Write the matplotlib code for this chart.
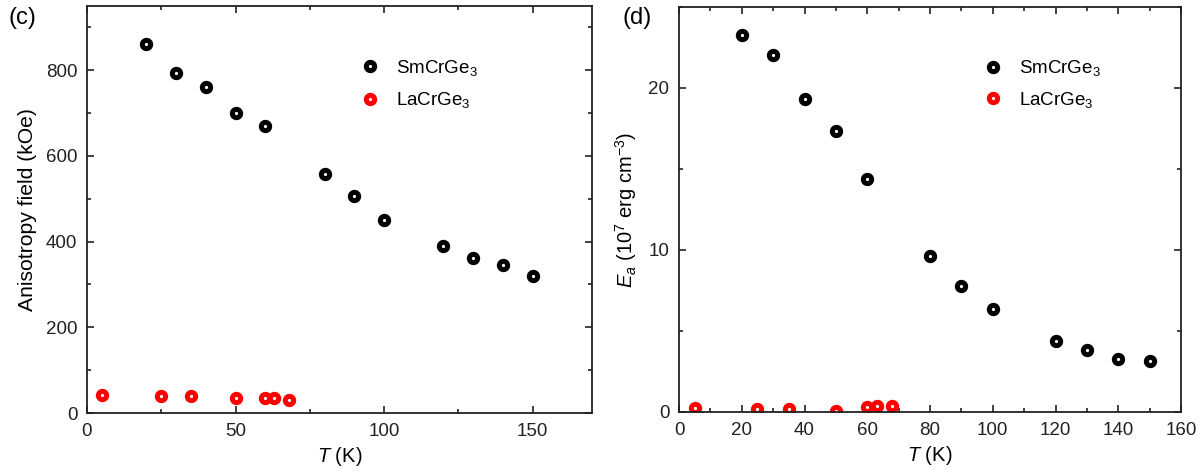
"""
Anisotropy field and anisotropy energy of SmCrGe3 vs LaCrGe3.
"""

import matplotlib
matplotlib.use("Agg")
import matplotlib.pyplot as plt
from matplotlib.ticker import MultipleLocator

# Panel (c): anisotropy field (kOe)
sm_T = [20, 30, 40, 50, 60, 80, 90, 100, 120, 130, 140, 150]
sm_field = [862, 794, 760, 701, 670, 558, 507, 450, 389, 361, 345, 320]
la_T = [5, 25, 35, 50, 60, 63, 68]
la_field = [41, 40, 39, 36, 34, 34, 30]

# Panel (d): anisotropy energy (1e7 erg/cm^3)
sm_energy = [23.3, 22.05, 19.3, 17.37, 14.4, 9.6, 7.75, 6.35, 4.4, 3.83, 3.3, 3.15]
la_energy = [0.25, 0.2, 0.2, 0.04, 0.33, 0.35, 0.35]

plt.rcParams["font.family"] = ["Liberation Sans", "DejaVu Sans"]
plt.rcParams["mathtext.fontset"] = "custom"
plt.rcParams["mathtext.rm"] = "Liberation Sans"
plt.rcParams["mathtext.it"] = "Liberation Sans:italic"
plt.rcParams["mathtext.default"] = "regular"

SPINE = "#222222"
MARKER = dict(marker="o", linestyle="none", markersize=6.0,
              markeredgewidth=3.6, markerfacecolor="white")


def style_axes(ax):
    for s in ax.spines.values():
        s.set_linewidth(1.3)
        s.set_color(SPINE)
    ax.tick_params(which="both", direction="in", top=True, right=True,
                   color=SPINE, labelsize=13.5, labelcolor="#222222")
    ax.tick_params(which="major", length=5, width=1.2, pad=7)
    ax.tick_params(which="minor", length=3, width=1.2)


def draw_panel(ax, y_sm, y_la):
    ax.plot(sm_T, y_sm, color="black", markeredgecolor="black",
            label="SmCrGe$_3$", **MARKER)
    ax.plot(la_T, y_la, color="red", markeredgecolor="red",
            label="LaCrGe$_3$", **MARKER)


fig = plt.figure(figsize=(12.02, 4.75), dpi=100)

# (c)
ax1 = fig.add_axes([87 / 1202, 1 - 413 / 475, 505 / 1202, 407 / 475])
draw_panel(ax1, sm_field, la_field)
ax1.set_xlim(0, 170)
ax1.set_ylim(0, 950)
ax1.xaxis.set_major_locator(MultipleLocator(50))
ax1.xaxis.set_minor_locator(MultipleLocator(25))
ax1.yaxis.set_major_locator(MultipleLocator(200))
ax1.yaxis.set_minor_locator(MultipleLocator(100))
style_axes(ax1)
ax1.set_xlabel("$\\mathit{T}$ (K)", fontsize=14.5, labelpad=4)
ax1.set_ylabel("Anisotropy field (kOe)", fontsize=15.2, labelpad=6)
ax1.legend(loc="center left", bbox_to_anchor=(0.508, 0.808), frameon=False,
           fontsize=13.5, handletextpad=0.9, labelspacing=0.65,
           handlelength=1.0)
fig.text(9 / 1202, 1 - 24 / 475, "(c)", fontsize=17)

# (d)
ax2 = fig.add_axes([679 / 1202, 1 - 412 / 475, 502 / 1202, 405 / 475])
draw_panel(ax2, sm_energy, la_energy)
ax2.set_xlim(0, 160)
ax2.set_ylim(0, 25)
ax2.xaxis.set_major_locator(MultipleLocator(20))
ax2.xaxis.set_minor_locator(MultipleLocator(10))
ax2.yaxis.set_major_locator(MultipleLocator(10))
ax2.yaxis.set_minor_locator(MultipleLocator(5))
style_axes(ax2)
ax2.set_xlabel("$\\mathit{T}$ (K)", fontsize=14.5, labelpad=4)
ax2.set_ylabel("$\\mathit{E}_\\mathit{a}$ (10$^7$ erg cm$^{-3}$)",
               fontsize=14.5, labelpad=7)
ax2.legend(loc="center left", bbox_to_anchor=(0.573, 0.81), frameon=False,
           fontsize=13.5, handletextpad=0.9, labelspacing=0.6,
           handlelength=1.0)
fig.text(622 / 1202, 1 - 24 / 475, "(d)", fontsize=17)

fig.savefig("out.png", dpi=100)
